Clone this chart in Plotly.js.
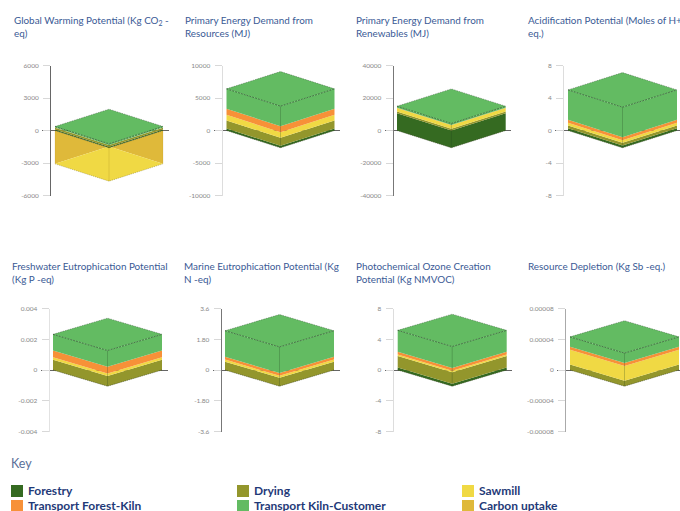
<!DOCTYPE html>
<html><head><meta charset="utf-8">
<script src="https://cdn.plot.ly/plotly-3.0.1.min.js"></script>
<style>html,body{margin:0;padding:0;background:#fff;overflow:hidden}#c{width:680px;height:511px}</style>
</head><body><div id="c"></div>
<script>
// ---------- data ----------
const titles = [
 "Global Warming Potential (Kg CO<sub>2</sub> -<br>eq)",
 "Primary Energy Demand from<br>Resources (MJ)",
 "Primary Energy Demand from<br>Renewables (MJ)",
 "Acidification Potential (Moles of H+<br>eq.)",
 "Freshwater Eutrophication Potential<br>(Kg P -eq)",
 "Marine Eutrophication Potential (Kg<br>N -eq)",
 "Photochemical Ozone Creation<br>Potential (Kg NMVOC)",
 "Resource Depletion (Kg Sb -eq.)"];
const tickTops   = [6000, 10000, 40000, 8, 0.004, 3.6, 8, 0.00008];
const tickLabels = [
 ["6000","3000","0","-3000","-6000"],
 ["10000","5000","0","-5000","-10000"],
 ["40000","20000","0","-20000","-40000"],
 ["8","4","0","-4","-8"],
 ["0.004","0.002","0","-0.002","-0.004"],
 ["3.6","1.80","0","-1.80","-3.6"],
 ["8","4","0","-4","-8"],
 ["0.00008","0.00004","0","-0.00004","-0.00008"]];
const forestry  = [90, 300, 10650, 0.29, 0, 0, 0.31, 0];
const drying    = [170, 1240, 1100, 0.33, 0.00066, 0.49, 1.5, 0.000007];
const sawmill   = [0, 870, 2100, 0.32, 0.00017, 0.12, 0.2, 0.0000193];
const transportFK = [10, 920, 200, 0.37, 0.00044, 0.16, 0.35, 0.0000038];
const transportKC = [100, 3080, 900, 3.69, 0.00105, 1.53, 2.8, 0.000013];
const carbonUptake = [-3080, 0, 0, 0, 0, 0, 0, 0];
const seriesNames = ["Forestry","Drying","Sawmill","Transport Forest-Kiln","Transport Kiln-Customer","Carbon uptake"];
const seriesColors = ["#356a21","#93962c","#f0d944","#f79138","#63bb62","#dfb93a"];
// ---------- layout (pixels) ----------
const W=680,H=511;
const axisX=[50,221.5,392.7,563,48.7,220.7,392.7,565];
const boxL =[55,226.5,397,568,53,225,397.7,570];
const boxR =[163,334.5,505.7,677,162,334,506.7,679];
const zeroEnd=[169,340,511,680,168,340,511.7,680];
const rowTop=[65.5,308.5], rowBot=[195.5,431.5];
const depthPx=[17.3,16.2];
const axisColor=["#666","#ddd","#777","#ddd","#e2e2e2","#777","#ddd","#aaa"];
const titleX=[12,183,354,526,10,182,354,526];
const titleY=[11.5,257.5];
const layout={width:W,height:H,margin:{l:0,r:0,t:0,b:0},paper_bgcolor:"#fff",plot_bgcolor:"rgba(0,0,0,0)",
 showlegend:false,annotations:[],shapes:[],font:{family:"Lato"}};
const traces=[];
const poly=(n,x,y,c)=>traces.push({type:"scatter",mode:"lines",xaxis:"x"+n,yaxis:"y"+n,x,y,fill:"toself",fillcolor:c,
  line:{width:0,color:c},hoverinfo:"skip",cliponaxis:false});
const edge=(n,x,y,c,dash,w)=>traces.push({type:"scatter",mode:"lines",xaxis:"x"+n,yaxis:"y"+n,x,y,
  line:{width:w||0.7,color:c,dash:dash||"solid"},hoverinfo:"skip",cliponaxis:false});
titles.forEach((t,i)=>{
  const n=i+1,row=i<4?0:1,top=tickTops[i];
  const d=depthPx[row]/((rowBot[row]-rowTop[row])/2)*top;
  const domL=axisX[i]-8,domR=zeroEnd[i];
  const u=(boxR[i]-boxL[i])/2,cx=(boxR[i]+boxL[i])/2;
  layout["xaxis"+n]={domain:[domL/W,domR/W],range:[(domL-cx)/u,(domR-cx)/u],visible:false,fixedrange:true,anchor:"y"+n};
  layout["yaxis"+n]={domain:[1-rowBot[row]/H,1-rowTop[row]/H],range:[-top,top],anchor:"free",position:axisX[i]/W,
    showline:true,linecolor:axisColor[i],linewidth:1,ticks:"outside",ticklen:7,tickwidth:1,tickcolor:"#d8d8d8",
    tickvals:[top,top/2,0,-top/2,-top],ticktext:tickLabels[i],tickfont:{size:6.5,color:"#888",family:"Lato"},ticklabelstandoff:3,
    showgrid:false,zeroline:true,zerolinecolor:"#666",zerolinewidth:1,fixedrange:true,layer:"below traces"};
  const X=[-1,0,1,1,0,-1,-1];
  const chev=(lo,hi)=>[lo,lo-d,lo,hi,hi-d,hi,lo];
  const dia=v=>[v,v+d,v,v-d,v];
  const DX=[-1,0,1,0,-1];
  // carbon uptake: a see-through box hanging below zero
  const cu=carbonUptake[i];
  if(cu<0){
    poly(n,X,[cu,cu+d,cu,0,-d,0,cu],seriesColors[5]);
    poly(n,DX,dia(cu),seriesColors[2]);
    edge(n,[0,0],[cu+d,cu-d],"rgba(150,120,20,0.3)");
    edge(n,[-1,0,1],[cu,cu-d,cu],"rgba(90,80,20,0.5)","1px,1px");
    edge(n,[-1,-1],[cu,0],"rgba(150,120,20,0.2)");
    edge(n,[1,1],[cu,0],"rgba(150,120,20,0.2)");
  }
  // stacked layers, bottom to top
  const stack=[forestry[i],drying[i],sawmill[i],transportFK[i],transportKC[i]];
  let base=0;
  stack.forEach((v,k)=>{ if(v>0){poly(n,X,chev(base,base+v),seriesColors[k]);} base+=v; });
  poly(n,DX,dia(base),seriesColors[4]);
  // edges
  edge(n,[0,0],[-d,base-d],"rgba(30,60,30,0.35)");
  edge(n,[-1,0,1],[base,base+d,base],"rgba(40,60,40,0.6)","1.5px,1px",0.6);
  edge(n,[-1,0,1],[base,base-d,base],"rgba(30,60,30,0.85)","2px,1px",0.7);
  edge(n,[-1,0,1],[0,-d,0],"rgba(40,50,20,0.7)","1.5px,0.7px",0.6);
  layout.annotations.push({xref:"paper",yref:"paper",x:titleX[i]/W,y:1-titleY[row]/H,xanchor:"left",yanchor:"top",align:"left",
    showarrow:false,text:t,font:{size:9.9,color:"#3a5a95",family:"Lato"}});
});
// key
layout.annotations.push({xref:"paper",yref:"paper",x:9/W,y:1-463/H,xanchor:"left",yanchor:"middle",showarrow:false,
  text:"Key",font:{size:12.5,color:"#5b7099",family:"Lato"}});
const keyX=[11,237,462],keyY=[491,506];
const keyOrder=[[0,1,2],[3,4,5]];
keyOrder.forEach((r,ri)=>r.forEach((s,ci)=>{
  const x=keyX[ci],y=keyY[ri];
  layout.shapes.push({type:"rect",xref:"paper",yref:"paper",x0:x/W,x1:(x+12)/W,y0:1-(y-6)/H,y1:1-(y+6)/H,fillcolor:seriesColors[s],line:{width:0}});
  layout.annotations.push({xref:"paper",yref:"paper",x:(x+15)/W,y:1-(y-0.7)/H,xanchor:"left",yanchor:"middle",showarrow:false,
    text:"<b>"+seriesNames[s]+"</b>",font:{size:12,color:"#1f3a78",family:"Lato"}});
}));
Plotly.newPlot("c",traces,layout,{staticPlot:true,displayModeBar:false});
</script></body></html>
